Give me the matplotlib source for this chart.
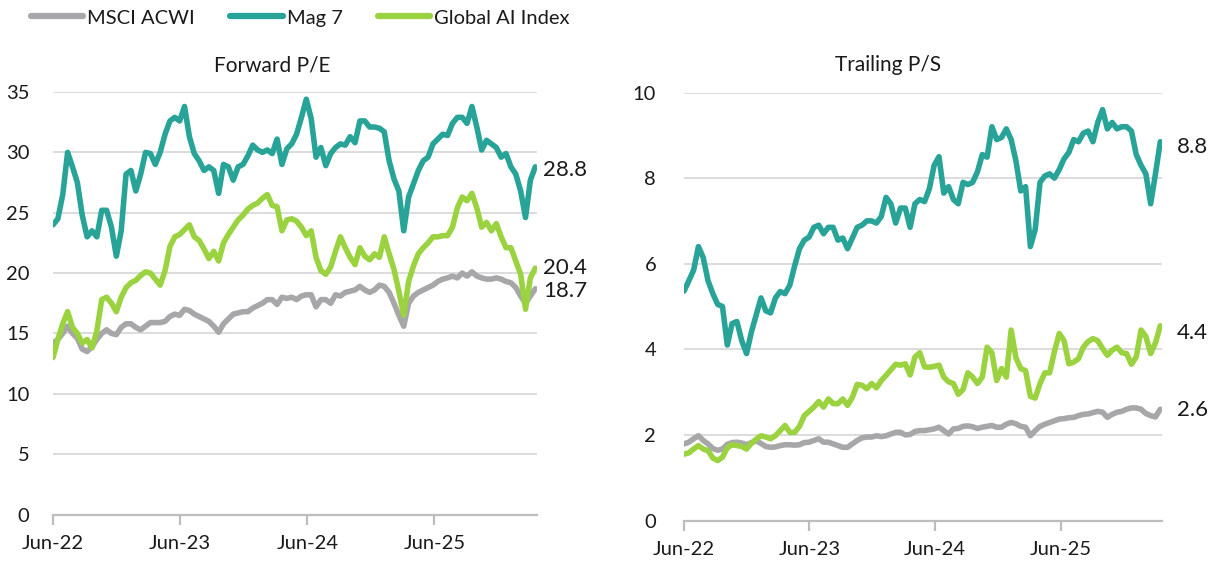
import matplotlib
matplotlib.use("Agg")
import matplotlib.pyplot as plt
import matplotlib.dates as mdates
from matplotlib.lines import Line2D
import pandas as pd

plt.rcParams['font.family'] = ['Lato', 'DejaVu Sans']

# ---- data (sampled every 14 days from Jun-2022) ----
dates = pd.date_range("2022-06-01", periods=100, freq="14D")

pe_acwi = [14.2, 14.5, 15.0, 15.6, 15.0, 14.6, 13.7, 13.5, 13.9, 14.5,
           15.0, 15.3, 15.0, 14.9, 15.5, 15.8, 15.8, 15.5, 15.3, 15.6,
           15.9, 15.9, 15.9, 16.0, 16.4, 16.6, 16.5, 17.0, 16.9, 16.6,
           16.4, 16.2, 16.0, 15.6, 15.1, 15.8, 16.2, 16.6, 16.7, 16.8,
           16.8, 17.1, 17.3, 17.5, 17.8, 17.8, 17.4, 18.0, 17.9, 18.0,
           17.8, 18.1, 18.2, 18.2, 17.2, 17.8, 17.8, 17.5, 18.2, 18.1,
           18.4, 18.5, 18.6, 18.9, 18.6, 18.4, 18.6, 19.0, 18.9, 18.4,
           17.5, 16.5, 15.6, 17.5, 18.1, 18.4, 18.6, 18.8, 19.0, 19.3,
           19.5, 19.6, 19.75, 19.6, 20.0, 19.75, 20.1, 19.75, 19.6, 19.5,
           19.5, 19.6, 19.5, 19.3, 19.2, 18.8, 18.1, 17.5, 18.1, 18.7]

pe_mag7 = [24.0, 24.5, 26.5, 30.0, 28.8, 27.5, 24.8, 23.0, 23.5, 23.0,
           25.2, 25.2, 23.8, 21.4, 23.5, 28.2, 28.5, 26.8, 28.2, 30.0,
           29.9, 29.0, 30.0, 31.5, 32.6, 32.9, 32.6, 33.8, 31.3, 29.9,
           29.3, 28.5, 28.8, 28.5, 26.6, 29.0, 28.8, 27.7, 28.8, 29.0,
           29.7, 30.6, 30.2, 30.0, 30.2, 29.9, 31.1, 29.0, 30.3, 30.7,
           31.5, 32.9, 34.4, 32.8, 29.6, 30.4, 28.9, 29.9, 30.4, 30.7,
           30.6, 31.3, 30.8, 32.6, 32.6, 32.1, 32.1, 32.0, 31.7, 29.3,
           27.8, 26.8, 23.5, 26.3, 27.4, 28.5, 29.3, 29.6, 30.7, 31.1,
           31.5, 31.4, 32.4, 32.9, 32.9, 32.4, 33.8, 32.1, 30.2, 31.0,
           30.7, 30.4, 29.6, 29.9, 28.8, 28.2, 26.8, 24.6, 27.7, 28.8]

pe_ai = [13.0, 14.5, 15.8, 16.8, 15.5, 15.0, 14.2, 14.5, 13.8, 15.2,
         17.8, 18.0, 17.5, 16.8, 18.0, 18.8, 19.2, 19.4, 19.8, 20.1,
         20.0, 19.5, 19.0, 20.2, 22.2, 23.0, 23.2, 23.6, 24.0, 23.0,
         22.7, 22.0, 21.2, 21.8, 21.0, 22.5, 23.2, 23.8, 24.4, 24.8,
         25.3, 25.6, 25.8, 26.2, 26.5, 25.6, 25.5, 23.5, 24.4, 24.5,
         24.3, 23.8, 23.1, 23.5, 21.3, 20.2, 19.9, 20.5, 21.8, 23.0,
         22.1, 21.3, 20.7, 22.1, 21.4, 21.1, 21.6, 21.3, 23.0, 21.6,
         20.3, 18.5, 16.5, 19.3, 20.6, 21.6, 22.1, 22.5, 23.0, 23.0,
         23.1, 23.1, 23.8, 25.4, 26.3, 26.0, 26.6, 25.4, 23.8, 24.2,
         23.5, 24.1, 23.0, 22.1, 22.1, 21.0, 19.9, 17.0, 19.6, 20.4]

ps_acwi = [1.79, 1.83, 1.91, 1.98, 1.87, 1.79, 1.68, 1.64, 1.67, 1.78,
           1.82, 1.83, 1.81, 1.77, 1.82, 1.86, 1.80, 1.73, 1.71, 1.72,
           1.75, 1.77, 1.77, 1.76, 1.77, 1.82, 1.83, 1.87, 1.91, 1.83,
           1.83, 1.79, 1.75, 1.71, 1.71, 1.79, 1.87, 1.93, 1.95, 1.95,
           1.98, 1.96, 1.98, 2.02, 2.06, 2.06, 2.00, 2.01, 2.08, 2.10,
           2.10, 2.12, 2.14, 2.18, 2.10, 2.02, 2.14, 2.15, 2.20, 2.21,
           2.19, 2.15, 2.18, 2.20, 2.22, 2.18, 2.18, 2.25, 2.29, 2.26,
           2.20, 2.18, 1.98, 2.10, 2.20, 2.25, 2.29, 2.33, 2.37, 2.38,
           2.40, 2.41, 2.45, 2.48, 2.49, 2.52, 2.55, 2.53, 2.41, 2.48,
           2.53, 2.55, 2.60, 2.63, 2.63, 2.60, 2.50, 2.45, 2.42, 2.60]

ps_mag7 = [5.36, 5.60, 5.85, 6.40, 6.14, 5.60, 5.30, 5.05, 5.00, 4.10,
           4.60, 4.65, 4.20, 3.90, 4.40, 4.80, 5.20, 4.90, 4.85, 5.20,
           5.35, 5.30, 5.50, 5.95, 6.35, 6.55, 6.62, 6.85, 6.90, 6.70,
           6.85, 6.85, 6.55, 6.60, 6.35, 6.60, 6.85, 6.90, 7.00, 7.00,
           6.95, 7.10, 7.55, 7.40, 6.95, 7.30, 7.30, 6.85, 7.40, 7.50,
           7.45, 7.75, 8.30, 8.50, 7.65, 7.80, 7.50, 7.40, 7.90, 7.85,
           7.90, 8.15, 8.55, 8.49, 9.20, 8.90, 8.95, 9.15, 8.90, 8.40,
           7.70, 7.80, 6.40, 6.80, 7.90, 8.05, 8.10, 8.00, 8.20, 8.45,
           8.60, 8.90, 8.85, 9.05, 9.10, 8.85, 9.30, 9.60, 9.15, 9.30,
           9.15, 9.20, 9.20, 9.10, 8.55, 8.30, 8.10, 7.40, 8.10, 8.85]

ps_ai = [1.55, 1.58, 1.67, 1.75, 1.67, 1.63, 1.46, 1.40, 1.48, 1.70,
         1.77, 1.75, 1.73, 1.67, 1.80, 1.90, 1.98, 1.95, 1.91, 1.98,
         2.10, 2.22, 2.06, 2.06, 2.20, 2.45, 2.55, 2.65, 2.78, 2.65,
         2.84, 2.73, 2.73, 2.84, 2.69, 2.88, 3.18, 3.16, 3.08, 3.20,
         3.10, 3.27, 3.39, 3.52, 3.65, 3.63, 3.66, 3.40, 3.82, 3.92,
         3.59, 3.58, 3.60, 3.63, 3.35, 3.24, 3.20, 2.95, 3.06, 3.45,
         3.35, 3.20, 3.35, 4.05, 3.92, 3.27, 3.55, 3.35, 4.45, 3.80,
         3.55, 3.50, 2.90, 2.86, 3.20, 3.45, 3.45, 3.95, 4.37, 4.20,
         3.66, 3.70, 3.78, 4.05, 4.18, 4.25, 4.20, 4.02, 3.86, 3.98,
         4.05, 3.92, 3.90, 3.65, 3.82, 4.45, 4.30, 3.90, 4.15, 4.55]

series_names = ["MSCI ACWI", "Mag 7", "Global AI Index"]
colors = ["#A7A7AA", "#27A398", "#9BD240"]
pe_last_labels = ["18.7", "28.8", "20.4"]
ps_last_labels = ["2.6", "8.8", "4.4"]
year_ticks = pd.to_datetime(["2022-06-01", "2023-06-01", "2024-06-01", "2025-06-01"])

W, H = 1221, 562
fig = plt.figure(figsize=(W / 100, H / 100), dpi=100)
FS = 14.5
TXT = "#1a1a1a"
LW = 4.0


def setup(ax, ylim, ystep):
    ax.set_xlim(pd.Timestamp("2022-06-01"), pd.Timestamp("2022-06-01") + pd.Timedelta(days=1391))
    ax.set_ylim(*ylim)
    ax.set_yticks(range(ylim[0], ylim[1] + 1, ystep))
    ax.grid(axis="y", color="#D9D9D9", linewidth=1.3)
    ax.set_axisbelow(True)
    for s in ["left", "right", "top"]:
        ax.spines[s].set_visible(False)
    ax.spines["bottom"].set_color("#BDBDBD")
    ax.spines["bottom"].set_linewidth(1.6)
    ax.set_xticks(year_ticks)
    ax.xaxis.set_major_formatter(mdates.DateFormatter("%b-%y"))
    ax.tick_params(axis="x", color="#BDBDBD", width=1.6, length=7, pad=8,
                   labelsize=FS, labelcolor=TXT)
    ax.tick_params(axis="y", length=0, pad=17, labelsize=FS, labelcolor=TXT)


ax1 = fig.add_axes([53 / W, 1 - 514.5 / H, (537 - 53) / W, (514.5 - 92) / H])
setup(ax1, (0, 35), 5)
for vals, c in zip([pe_acwi, pe_mag7, pe_ai], colors):
    ax1.plot(dates, vals, color=c, linewidth=LW, solid_capstyle="round",
             solid_joinstyle="round")

ax2 = fig.add_axes([684 / W, 1 - 520.5 / H, (1162 - 684) / W, (520.5 - 92.5) / H])
setup(ax2, (0, 10), 2)
ax2.tick_params(axis="y", pad=20)
for vals, c in zip([ps_acwi, ps_mag7, ps_ai], colors):
    ax2.plot(dates, vals, color=c, linewidth=LW, solid_capstyle="round",
             solid_joinstyle="round")

# titles
fig.text(272 / W, 1 - 65 / H, "Forward P/E", ha="center", va="center", fontsize=15, color=TXT)
fig.text(888 / W, 1 - 65 / H, "Trailing P/S", ha="center", va="center", fontsize=15, color=TXT)

# end labels
for lab, y in zip(pe_last_labels, [291, 170, 268]):
    fig.text(543 / W, 1 - y / H, lab, ha="left", va="center", fontsize=FS + 1.5, color=TXT)
for lab, y in zip(ps_last_labels, [410, 147, 333]):
    fig.text(1177 / W, 1 - y / H, lab, ha="left", va="center", fontsize=FS + 1.5, color=TXT)

# legend
handles = [Line2D([0], [0], color=c, linewidth=4.5, solid_capstyle="round") for c in colors]
fig.legend(handles, series_names, loc="center left", bbox_to_anchor=(31 / W, 1 - 18 / H),
           ncol=3, frameon=False, fontsize=FS, handlelength=2.6, handletextpad=0.2,
           columnspacing=1.75, borderaxespad=0, borderpad=0, labelcolor=TXT)

fig.savefig("out.png", dpi=100)
